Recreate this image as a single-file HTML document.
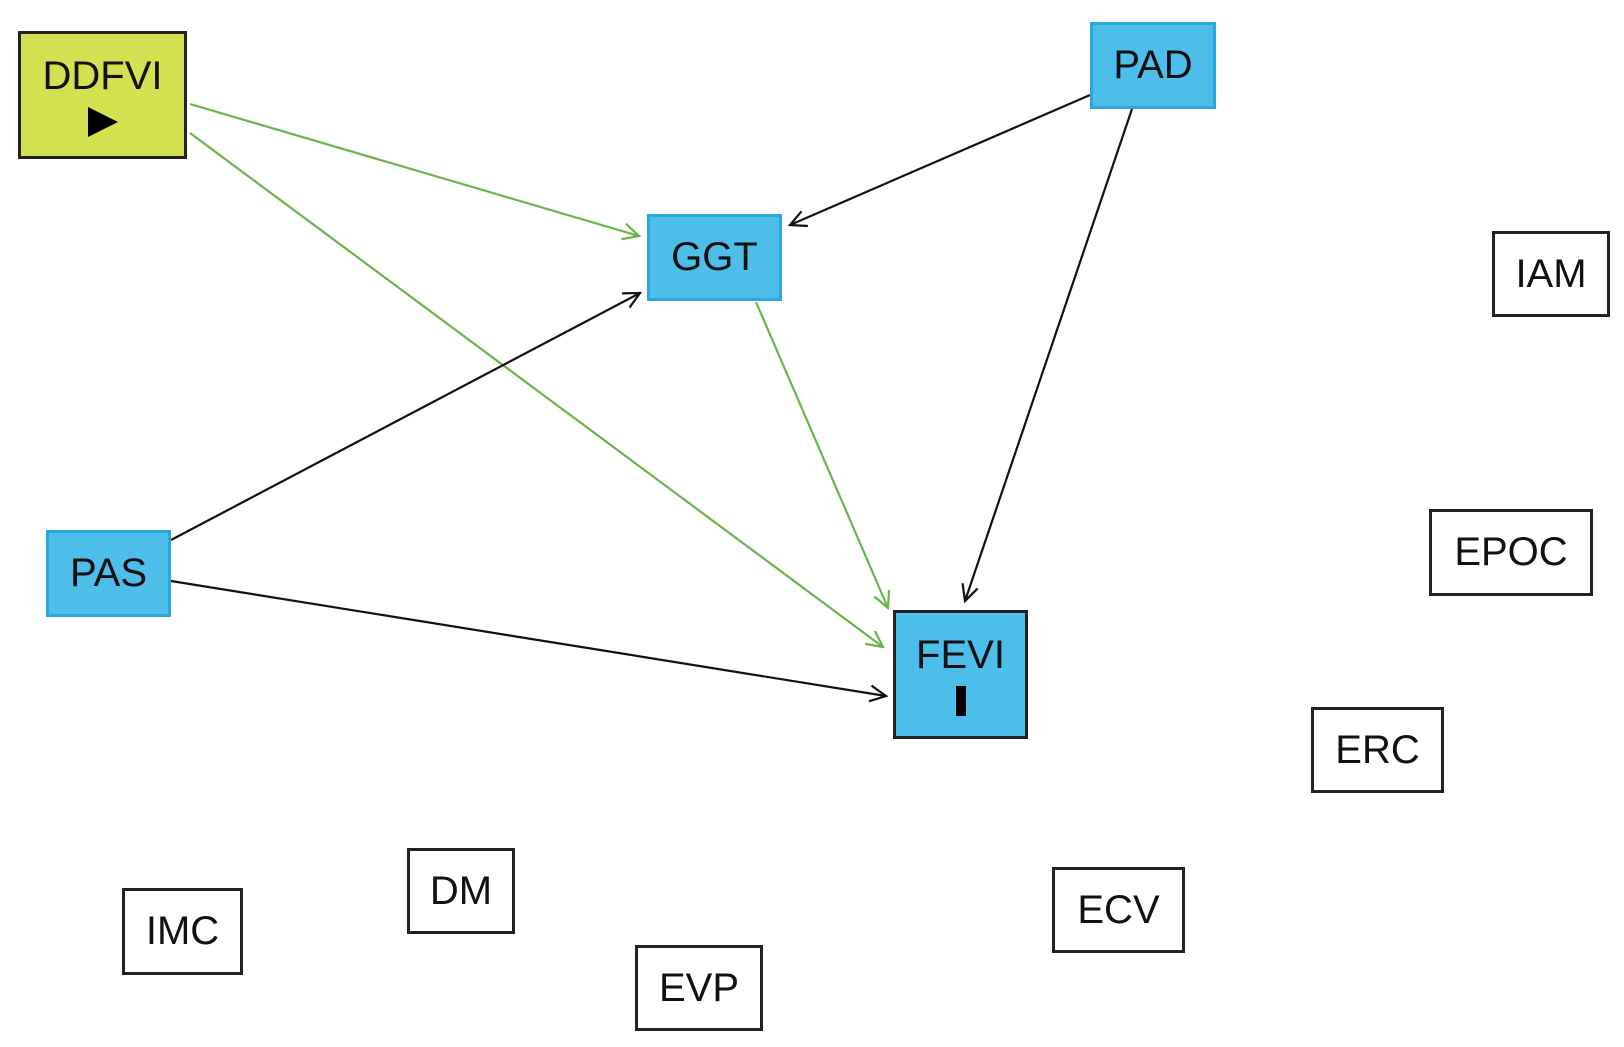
<!DOCTYPE html>
<html><head><style>
body{margin:0;width:1624px;height:1047px;background:#fff;position:relative;overflow:hidden;font-family:"Liberation Sans",sans-serif}
.n{position:absolute;box-sizing:border-box;display:flex;flex-direction:column;align-items:center;justify-content:center;font-size:40px;color:#111;border:3px solid #222;background:#fff}
.b{background:#4dbde9;border:3px solid #2aa8de}
svg{position:absolute;left:0;top:0}
</style></head><body>
<svg width="1624" height="1047">
<defs>
<marker id="ag" markerWidth="20" markerHeight="20" refX="18" refY="10" orient="auto" markerUnits="userSpaceOnUse"><path d="M2,2 L18,10 L2,18" fill="none" stroke="#6ab547" stroke-width="2.2"/></marker>
<marker id="ak" markerWidth="20" markerHeight="20" refX="18" refY="10" orient="auto" markerUnits="userSpaceOnUse"><path d="M2,2 L18,10 L2,18" fill="none" stroke="#111" stroke-width="2.2"/></marker>
</defs>
<g stroke-width="2.2" fill="none">
<line x1="190" y1="104" x2="639" y2="236" stroke="#6ab547" marker-end="url(#ag)"/>
<line x1="190" y1="133" x2="883" y2="647" stroke="#6ab547" marker-end="url(#ag)"/>
<line x1="756" y1="302" x2="888" y2="608" stroke="#6ab547" marker-end="url(#ag)"/>
<line x1="1090" y1="95" x2="790" y2="225" stroke="#111" marker-end="url(#ak)"/>
<line x1="1132" y1="109" x2="965" y2="601" stroke="#111" marker-end="url(#ak)"/>
<line x1="171" y1="540" x2="640" y2="293" stroke="#111" marker-end="url(#ak)"/>
<line x1="171" y1="581" x2="886" y2="696" stroke="#111" marker-end="url(#ak)"/>
</g>
</svg>
<div class="n" style="left:18px;top:31px;width:169px;height:128px;background:#d3e04f"><div>DDFVI</div><div style="width:0;height:0;border-left:30px solid #000;border-top:15px solid transparent;border-bottom:15px solid transparent;margin-top:8px"></div></div>
<div class="n b" style="left:1090px;top:22px;width:126px;height:87px">PAD</div>
<div class="n b" style="left:647px;top:214px;width:135px;height:87px">GGT</div>
<div class="n b" style="left:46px;top:530px;width:125px;height:87px">PAS</div>
<div class="n b" style="left:893px;top:610px;width:135px;height:129px;border-color:#222"><div>FEVI</div><div style="width:10px;height:30px;background:#000;margin-top:8px"></div></div>
<div class="n" style="left:1492px;top:231px;width:118px;height:86px">IAM</div>
<div class="n" style="left:1429px;top:509px;width:164px;height:87px">EPOC</div>
<div class="n" style="left:1311px;top:707px;width:133px;height:86px">ERC</div>
<div class="n" style="left:407px;top:848px;width:108px;height:86px">DM</div>
<div class="n" style="left:122px;top:888px;width:121px;height:87px">IMC</div>
<div class="n" style="left:1052px;top:867px;width:133px;height:86px">ECV</div>
<div class="n" style="left:635px;top:945px;width:128px;height:86px">EVP</div>
</body></html>
